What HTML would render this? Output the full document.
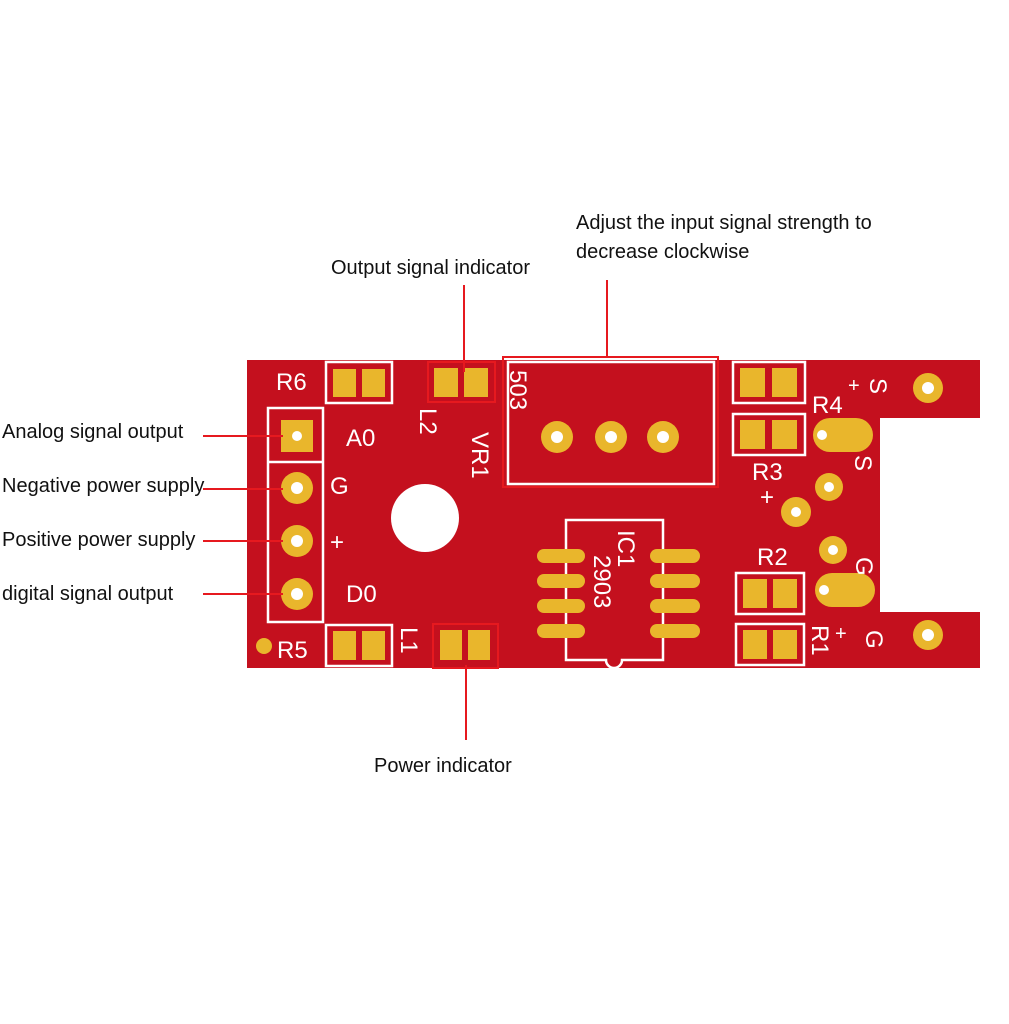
<!DOCTYPE html>
<html><head><meta charset="utf-8"><style>
html,body{margin:0;padding:0;background:#fff;}
svg{display:block;}
.l{font-family:"Liberation Sans",sans-serif;font-size:20px;fill:#111;}
.w{font-family:"Liberation Sans",sans-serif;font-size:24px;fill:#fff;}
</style></head><body>
<svg width="1009" height="1024" viewBox="0 0 1009 1024" xmlns="http://www.w3.org/2000/svg">
<path d="M247 360 H980 V418 H880 V612 H980 V668 H247 Z" fill="#c4101e"/>
<g fill="none" stroke="#fff" stroke-width="2.5">
<rect x="326" y="362" width="66" height="41"/>
<rect x="268" y="408" width="55" height="214"/>
<line x1="268" y1="462" x2="323" y2="462"/>
<rect x="508" y="362" width="206" height="122"/>
<rect x="733" y="362" width="72" height="41"/>
<rect x="733" y="414" width="72" height="41"/>
<rect x="736" y="573" width="68" height="41"/>
<rect x="736" y="624" width="68" height="41"/>
<rect x="326" y="625" width="66" height="41"/>
<path d="M566 520 H663 V660 H622 A8 8 0 0 1 606 660 H566 Z"/>
</g>
<g fill="none" stroke="#e6191f" stroke-width="2">
<rect x="428" y="362" width="67" height="40"/>
<rect x="503" y="357" width="215" height="130"/>
<rect x="433" y="624" width="65" height="44"/>
</g>
<g fill="#e9b62c">
<rect x="333" y="369" width="23" height="28"/><rect x="362" y="369" width="23" height="28"/>
<rect x="434" y="368" width="24" height="29"/><rect x="464" y="368" width="24" height="29"/>
<rect x="740" y="368" width="25" height="29"/><rect x="772" y="368" width="25" height="29"/>
<rect x="740" y="420" width="25" height="29"/><rect x="772" y="420" width="25" height="29"/>
<rect x="743" y="579" width="24" height="29"/><rect x="773" y="579" width="24" height="29"/>
<rect x="743" y="630" width="24" height="29"/><rect x="773" y="630" width="24" height="29"/>
<rect x="333" y="631" width="23" height="29"/><rect x="362" y="631" width="23" height="29"/>
<rect x="440" y="630" width="22" height="30"/><rect x="468" y="630" width="22" height="30"/>
<rect x="281" y="420" width="32" height="32"/>
<circle cx="297" cy="488" r="16"/><circle cx="297" cy="541" r="16"/><circle cx="297" cy="594" r="16"/>
<circle cx="557" cy="437" r="16"/><circle cx="611" cy="437" r="16"/><circle cx="663" cy="437" r="16"/>
<circle cx="928" cy="388" r="15"/><circle cx="829" cy="487" r="14"/><circle cx="796" cy="512" r="15"/>
<circle cx="833" cy="550" r="14"/><circle cx="928" cy="635" r="15"/><circle cx="264" cy="646" r="8"/>
<rect x="813" y="418" width="60" height="34" rx="17"/><rect x="815" y="573" width="60" height="34" rx="17"/>
<g><rect x="537" y="549" width="48" height="14" rx="7"/><rect x="537" y="574" width="48" height="14" rx="7"/><rect x="537" y="599" width="48" height="14" rx="7"/><rect x="537" y="624" width="48" height="14" rx="7"/>
<rect x="650" y="549" width="50" height="14" rx="7"/><rect x="650" y="574" width="50" height="14" rx="7"/><rect x="650" y="599" width="50" height="14" rx="7"/><rect x="650" y="624" width="50" height="14" rx="7"/></g>
</g>
<g fill="#fff">
<circle cx="297" cy="436" r="5"/><circle cx="297" cy="488" r="6"/><circle cx="297" cy="541" r="6"/><circle cx="297" cy="594" r="6"/>
<circle cx="557" cy="437" r="6"/><circle cx="611" cy="437" r="6"/><circle cx="663" cy="437" r="6"/>
<circle cx="928" cy="388" r="6"/><circle cx="829" cy="487" r="5"/><circle cx="796" cy="512" r="5"/>
<circle cx="833" cy="550" r="5"/><circle cx="928" cy="635" r="6"/><circle cx="822" cy="435" r="5"/><circle cx="824" cy="590" r="5"/>
<circle cx="425" cy="518" r="34"/>
</g>
<g class="w">
<text x="276" y="390">R6</text>
<text x="346" y="446">A0</text>
<text x="330" y="494">G</text>
<text x="330" y="550">+</text>
<text x="346" y="602">D0</text>
<text x="277" y="658">R5</text>
<text x="812" y="413">R4</text>
<text x="752" y="480">R3</text>
<text x="757" y="565">R2</text>
<text x="760" y="505">+</text>
<text transform="translate(510,370) rotate(90)">503</text>
<text transform="translate(420,408) rotate(90)">L2</text>
<text transform="translate(472,432) rotate(90)">VR1</text>
<text transform="translate(401,627) rotate(90)">L1</text>
<text transform="translate(618,530) rotate(90)">IC1</text>
<text transform="translate(594,555) rotate(90)">2903</text>
<text transform="translate(870,378) rotate(90)">S</text>
<text transform="translate(855,455) rotate(90)">S</text>
<text transform="translate(856,557) rotate(90)">G</text>
<text transform="translate(866,630) rotate(90)">G</text>
<text transform="translate(812,625) rotate(90)">R1</text>
<text x="848" y="392" font-size="20">+</text>
<text x="835" y="640" font-size="20">+</text>
</g>
<g stroke="#e6191f" stroke-width="2">
<line x1="203" y1="436" x2="283" y2="436"/>
<line x1="203" y1="489" x2="283" y2="489"/>
<line x1="203" y1="541" x2="283" y2="541"/>
<line x1="203" y1="594" x2="283" y2="594"/>
<line x1="464" y1="285" x2="464" y2="372"/>
<line x1="607" y1="280" x2="607" y2="357"/>
<line x1="466" y1="665" x2="466" y2="740"/>
</g>
<g class="l">
<text x="2" y="438">Analog signal output</text>
<text x="2" y="492">Negative power supply</text>
<text x="2" y="546">Positive power supply</text>
<text x="2" y="600">digital signal output</text>
<text x="331" y="274">Output signal indicator</text>
<text x="576" y="229">Adjust the input signal strength to</text>
<text x="576" y="258">decrease clockwise</text>
<text x="374" y="772">Power indicator</text>
</g>
</svg>
</body></html>
